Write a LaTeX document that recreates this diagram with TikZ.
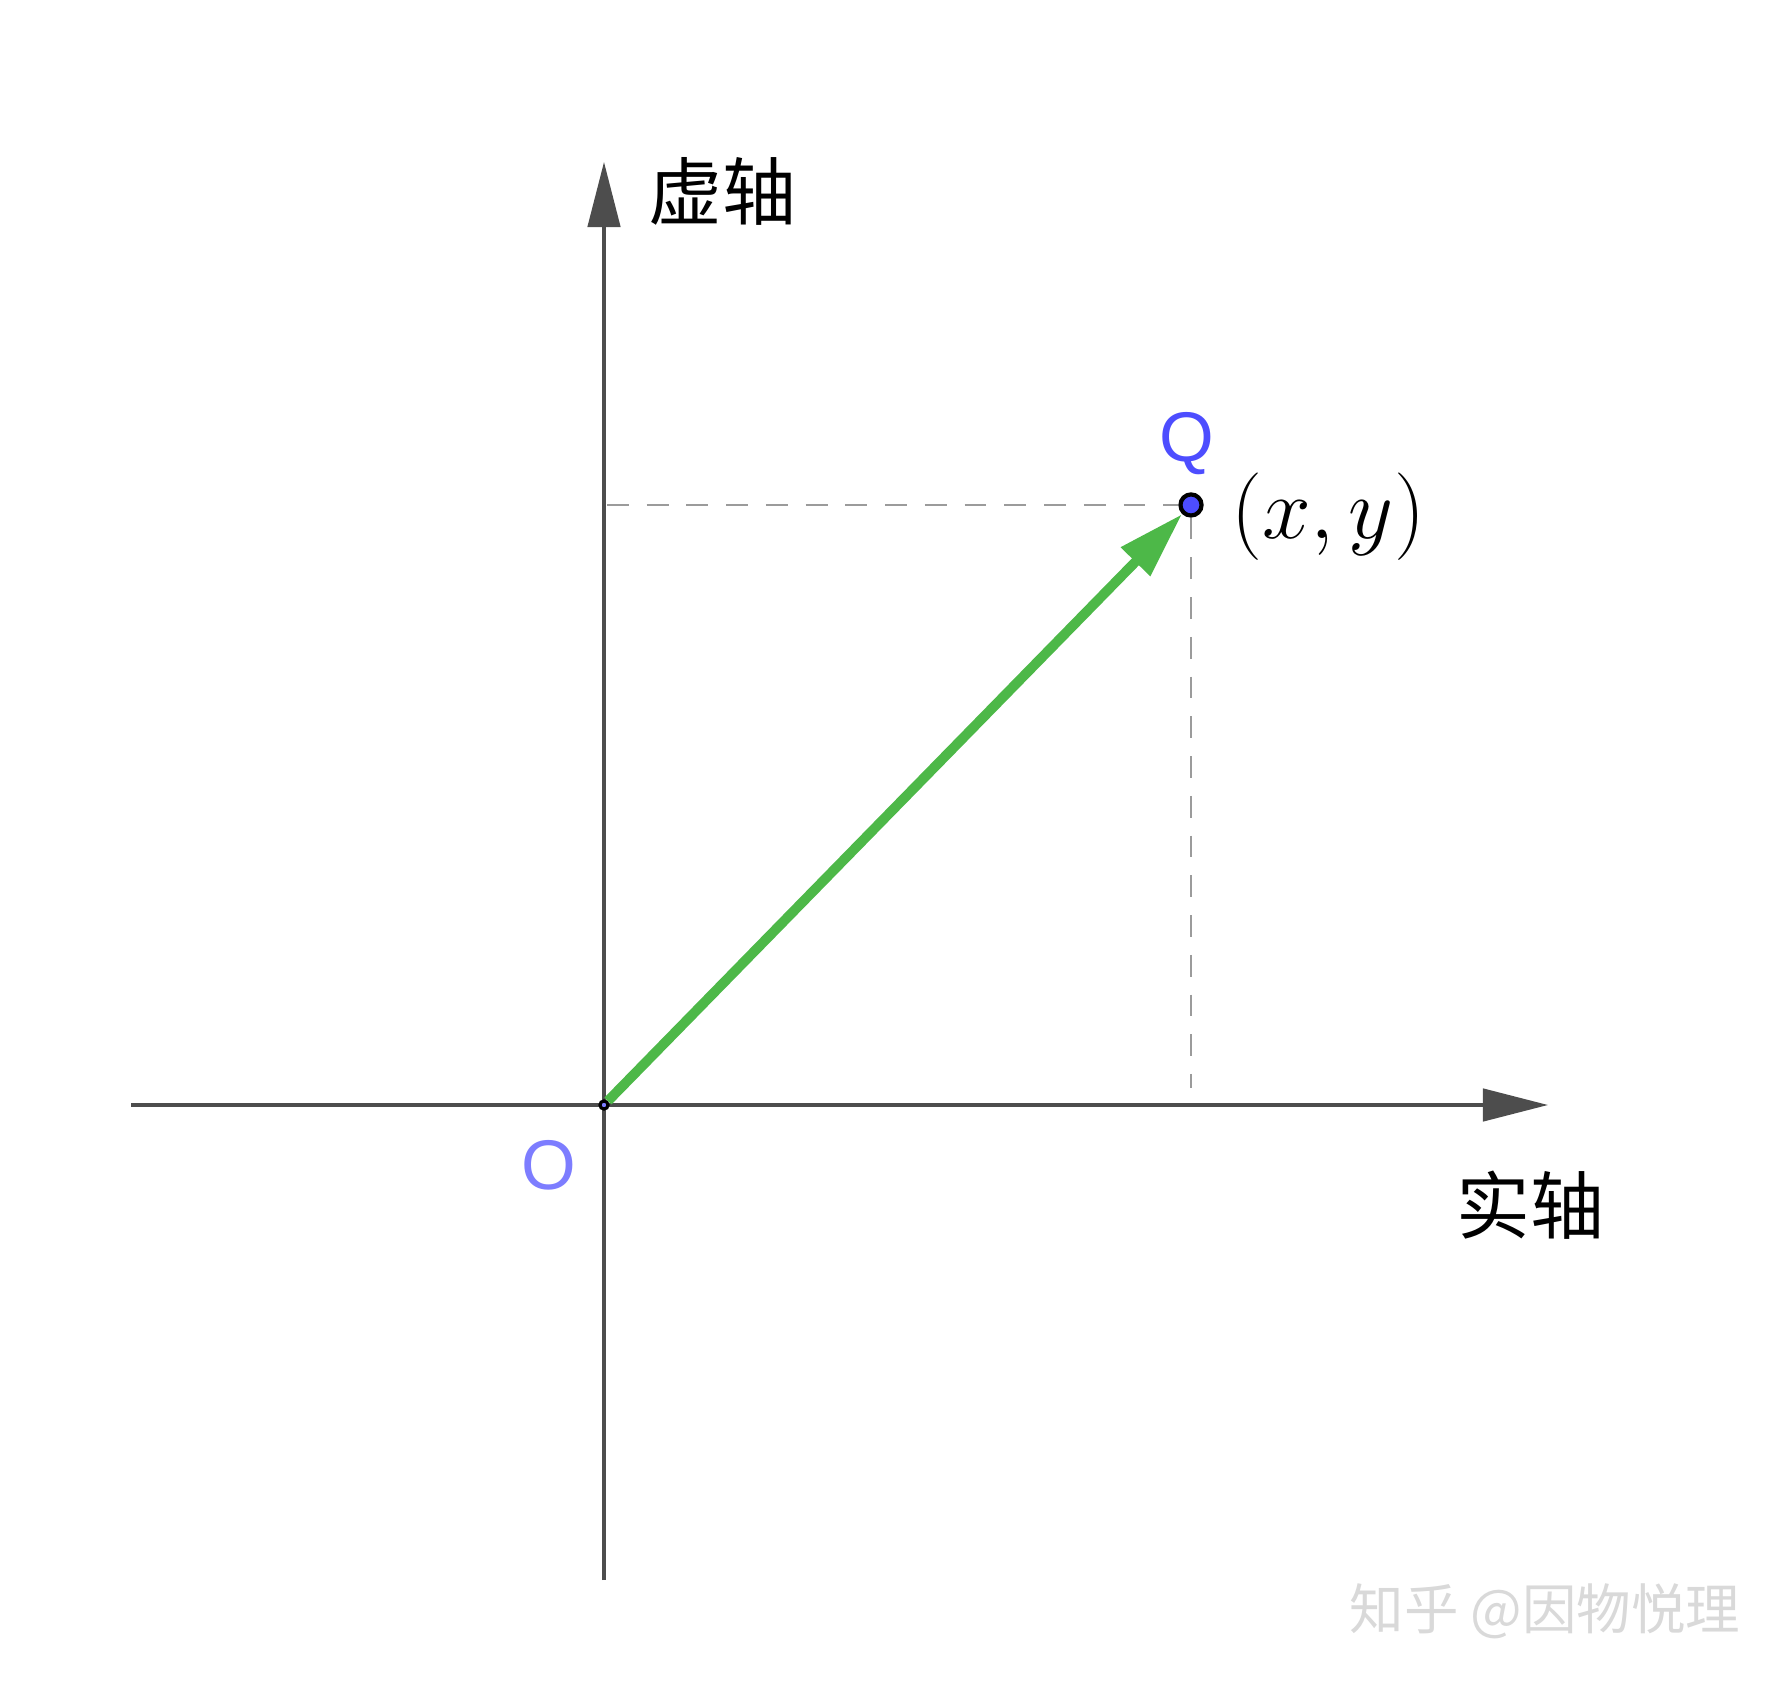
\documentclass[tikz,border=0pt]{standalone}
\usepackage{fontspec}
\setsansfont{Liberation Sans}
\newfontfamily\cjk{Noto Sans CJK SC}
\usepackage{amsmath}
\usetikzlibrary{arrows.meta,positioning}

\definecolor{axisgray}{RGB}{77,77,77}
\definecolor{dashgray}{RGB}{155,155,155}
\definecolor{vecgreen}{RGB}{77,184,72}
\definecolor{ptblue}{RGB}{77,77,255}
\definecolor{oblue}{RGB}{125,125,255}

\begin{document}
\begin{tikzpicture}[
					x = 0.01cm, y = -0.01cm,
					axis/.style = {draw=axisgray, line width=1pt, -{Triangle[length=18.5pt,width=9.2pt]}},
					guide/.style = {draw=dashgray, line width=0.6pt, dash pattern=on 6.2pt off 5.1pt},
					vec/.style = {draw=vecgreen, line width=2.8pt, -{Triangle[length=19pt,width=11pt]}},
					pt/.style = {circle, draw=black, line width=1.2pt, fill=ptblue, inner sep=0pt, minimum size=6pt},
					origin/.style = {circle, draw=black, line width=0.9pt, fill=oblue, inner sep=0pt, minimum size=2.3pt},
					ptlabel/.style = {font=\sffamily\fontsize{20}{24}\selectfont},
					axlabel/.style = {font=\cjk\fontsize{21}{25}\selectfont}
					]

					\useasboundingbox (0,0) rectangle (1785,1686);

					% axes
					\coordinate (xL) at (131,1105);
					\coordinate (xR) at (1548,1105);
					\coordinate (yB) at (604,1580);
					\coordinate (yT) at (604,162);
					\draw[axis] (xL) -- (xR);
					\draw[axis] (yB) -- (yT);

					\node[axlabel] (re) at (1530,1205) {实轴};
					\node[axlabel] (im) at (722,191) {虚轴};

					% points
					\node[origin] (O) at (604,1105) {};
					\node[pt] (Q) at (1191,505) {};
					\node[ptlabel, text=oblue] (Olbl) at (549,1165) {O};
					\node[ptlabel, text=ptblue] (Qlbl) at (1187,444) {Q};
					\node[font=\fontsize{27}{31}\selectfont] (xy) at (1328,517) {$(x,y)$};

					% projections
					\coordinate (yQ) at (607,505);
					\coordinate (xQ) at (1191,1088);
					\draw[guide] (yQ) -- (Q);
					\draw[guide] (Q) -- (xQ);

					\draw[vec] (O) -- (Q);

					\node[font=\cjk\fontsize{15.5}{19}\selectfont, text=gray!30] (wm) at (1545,1611) {知乎 @因物悦理};

				\end{tikzpicture}
\end{document}
